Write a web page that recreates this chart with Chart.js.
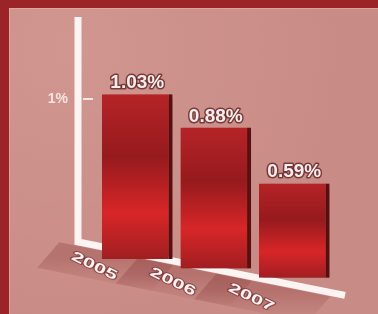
<!DOCTYPE html>
<html>
<head>
<meta charset="utf-8">
<script src="https://cdn.jsdelivr.net/npm/chart.js@4"></script>
<style>
  html, body { margin: 0; padding: 0; background: #c98b85; }
  canvas { display: block; }
</style>
</head>
<body>
<canvas id="myChart" width="378" height="314"></canvas>
<script>
var years = ['2005', '2006', '2007'];
var rates = [1.03, 0.88, 0.59];
var tickValues = [1];
var tickLabels = ['1%'];

var FLOOR_SLOPE = 0.2;   // slant of the white floor line
var BAR_SLOPE = 0.12;    // each bar sinks a bit further to the right (perspective)

function barShift(meta, el) {
    return BAR_SLOPE * (el.x - meta.data[0].x);
}

function floorGeom(chart) {
    var y = chart.scales.y;
    var axisX = chart.chartArea.left - 20;
    var cornerY = y.getPixelForValue(0) - 17;
    return {
        axisX: axisX,
        cornerY: cornerY,
        at: function (x) { return cornerY + FLOOR_SLOPE * (x - axisX); }
    };
}

var decor = {
    id: 'decor',
    beforeDraw: function (chart) {
        var c = chart.ctx, w = chart.width, h = chart.height;
        c.save();
        c.fillStyle = '#c98b85';
        c.fillRect(0, 0, w, h);
        var g = c.createRadialGradient(70, 50, 10, 70, 50, 280);
        g.addColorStop(0, 'rgba(255,215,210,0.14)');
        g.addColorStop(1, 'rgba(255,215,210,0)');
        c.fillStyle = g;
        c.fillRect(0, 0, w, h);
        // frame
        c.fillStyle = '#9a2427';
        c.fillRect(0, 0, w, 8);
        c.fillRect(0, 0, 9, h);
        c.fillStyle = 'rgba(235,175,168,0.6)';
        c.fillRect(9, 8, w - 9, 1);
        c.fillRect(9, 8, 1, h - 8);
        c.restore();
    },
    beforeDatasetsDraw: function (chart) {
        var c = chart.ctx, f = floorGeom(chart);
        var meta = chart.getDatasetMeta(0);
        c.save();
        // soft shadow tiles on the floor
        meta.data.forEach(function (el) {
            var x0 = el.x - 78, x1 = el.x + 36;
            var top = f.at(el.x) + 4;
            var g = c.createLinearGradient(0, top, 0, top + 34);
            g.addColorStop(0, 'rgba(125,45,45,0.28)');
            g.addColorStop(1, 'rgba(125,45,45,0)');
            c.fillStyle = g;
            c.beginPath();
            c.moveTo(x0, f.at(x0) + 4);
            c.lineTo(x1, f.at(x1) + 4);
            c.lineTo(x1 - 22, f.at(x1 - 22) + 34);
            c.lineTo(x0 - 22, f.at(x0 - 22) + 34);
            c.closePath();
            c.fill();
        });
        // white axis + floor line
        var endX = 345;
        c.strokeStyle = '#fbf4f3';
        c.lineWidth = 7;
        c.lineJoin = 'miter';
        c.beginPath();
        c.moveTo(f.axisX, chart.chartArea.top - 2);
        c.lineTo(f.axisX, f.cornerY);
        c.lineTo(endX, f.at(endX));
        c.stroke();
        // tick mark
        c.lineWidth = 2;
        c.strokeStyle = '#f6e6e3';
        tickValues.forEach(function (v) {
            var ty = chart.scales.y.getPixelForValue(v);
            c.beginPath();
            c.moveTo(f.axisX + 5, ty);
            c.lineTo(f.axisX + 15, ty);
            c.stroke();
        });
        c.restore();
    },
    beforeDatasetDraw: function (chart, args) {
        var c = chart.ctx, meta = args.meta;
        meta.data.forEach(function (el) {
            var off = barShift(meta, el);
            c.save();
            c.translate(0, off);
            c.shadowColor = 'rgba(70,10,10,0.45)';
            c.shadowBlur = 5;
            c.shadowOffsetX = 3;
            c.shadowOffsetY = 2;
            var g = c.createLinearGradient(0, el.y, 0, el.base);
            g.addColorStop(0, '#b52427');
            g.addColorStop(0.38, '#961a1d');
            g.addColorStop(0.72, '#d72628');
            g.addColorStop(1, '#a11e21');
            var saved = el.options;
            el.options = Object.assign({}, saved, { backgroundColor: g });
            el.draw(c);
            el.options = saved;
            c.restore();
        });
        return false;
    },
    afterDatasetsDraw: function (chart) {
        var c = chart.ctx, meta = chart.getDatasetMeta(0), f = floorGeom(chart);
        c.save();
        // value labels
        c.font = 'bold 19px "Liberation Sans", Arial, sans-serif';
        c.textAlign = 'center';
        c.textBaseline = 'alphabetic';
        c.lineJoin = 'round';
        meta.data.forEach(function (el, i) {
            var off = barShift(meta, el);
            var txt = rates[i].toFixed(2) + '%';
            var ty = el.y + off - 6;
            c.lineWidth = 3;
            c.strokeStyle = 'rgba(95,30,30,0.75)';
            c.strokeText(txt, el.x, ty);
            c.fillStyle = '#f5eeee';
            c.fillText(txt, el.x, ty);
        });
        // year labels lying on the floor
        c.font = 'bold 22px "Liberation Sans", Arial, sans-serif';
        c.textBaseline = 'middle';
        meta.data.forEach(function (el, i) {
            var lx = el.x - 43;
            var ly = f.at(lx) + 21;
            c.save();
            c.translate(lx, ly);
            c.rotate(0.45);
            c.scale(1.0, 0.62);
            c.lineWidth = 3;
            c.strokeStyle = 'rgba(110,40,40,0.6)';
            c.strokeText(years[i], 0, 0);
            c.fillStyle = '#fbf3f3';
            c.fillText(years[i], 0, 0);
            c.restore();
        });
        c.restore();
    }
};

var ctx = document.getElementById('myChart').getContext('2d');
var chart = new Chart(ctx, {
    type: 'bar',
    data: {
        labels: years,
        datasets: [{
            data: rates,
            backgroundColor: '#c02326',
            borderColor: '#5e1113',
            borderWidth: { top: 0, right: 4, bottom: 0, left: 0 },
            borderSkipped: false,
            categoryPercentage: 1,
            barPercentage: 0.9
        }]
    },
    options: {
        responsive: false,
        animation: false,
        layout: { padding: { top: 19, right: 44.5, bottom: 55, left: 0 } },
        plugins: {
            legend: { display: false },
            tooltip: { enabled: false }
        },
        scales: {
            x: { display: false, offset: true },
            y: {
                min: 0,
                max: 1.5,
                grid: { display: false, drawTicks: false },
                border: { display: false },
                afterBuildTicks: function (scale) {
                    scale.ticks = tickValues.map(function (v) { return { value: v }; });
                },
                afterFit: function (scale) {
                    scale.width = 98;
                    scale.paddingTop = 0;
                    scale.paddingBottom = 0;
                },
                ticks: {
                    padding: 30,
                    color: '#f6e3df',
                    font: { family: '"Liberation Sans", Arial, sans-serif', size: 14, weight: 'bold' },
                    callback: function (v) { return tickLabels[tickValues.indexOf(v)]; }
                }
            }
        }
    },
    plugins: [decor]
});
</script>
</body>
</html>
